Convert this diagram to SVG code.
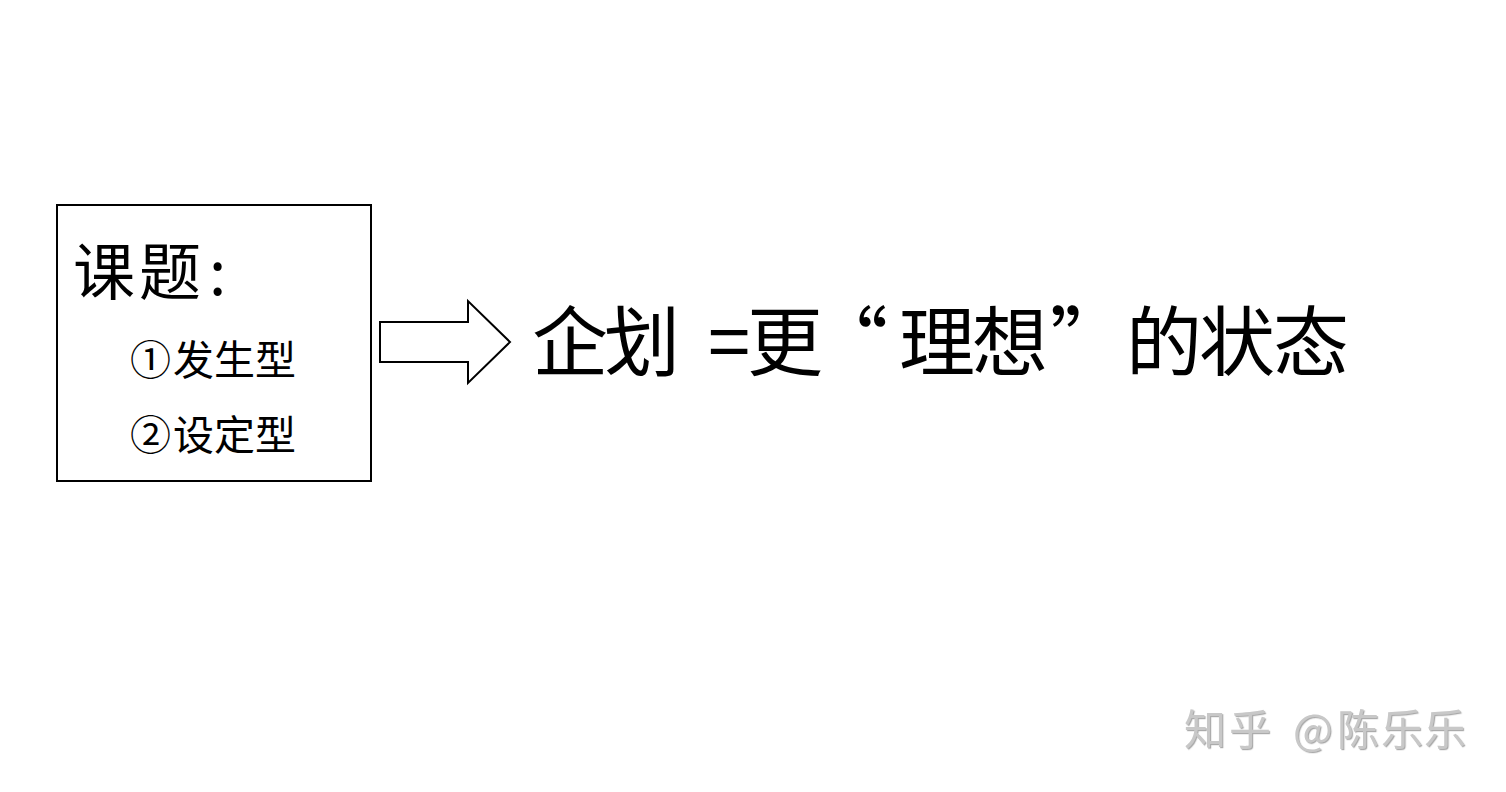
<svg xmlns="http://www.w3.org/2000/svg" width="1506" height="792" viewBox="0 0 1506 792">
<defs>
<style>
.t{font-family:"Noto Sans CJK SC","Noto Sans",sans-serif;fill:#000}
.shape{fill:#fff;stroke:#000;stroke-width:2}
.wm{font-family:"Noto Sans CJK SC","Noto Sans",sans-serif;fill:#c8c8c8}
</style>
<filter id="sh" x="-10%" y="-10%" width="120%" height="130%">
<feDropShadow dx="1.2" dy="1.2" stdDeviation="0.5" flood-color="#888" flood-opacity="0.7"/>
</filter>
</defs>
<rect width="1506" height="792" fill="#fff"/>
<g id="topic">
<rect class="shape" x="57" y="205" width="314" height="276"/>
<text class="t" font-size="62" x="73 139 209" y="295">课题:</text>
<text class="t" font-size="41" x="130 173 214 255" y="375">①发生型</text>
<text class="t" font-size="41" x="130 173 214 255" y="450">②设定型</text>
</g>
<g id="connectors">
<polygon class="shape" points="380,322 468,322 468,301 510,342 468,383 468,362 380,362"/>
</g>
<g id="result">
<text class="t" font-size="76" x="532 604 708 747 812 899 972 1050 1126 1199 1273" y="370">企划=更“理想”的状态</text>
</g>
<g id="watermark" filter="url(#sh)">
<text class="wm" font-size="42" x="1184 1229 1293 1337 1381 1424" y="745">知乎@陈乐乐</text>
</g>
</svg>
